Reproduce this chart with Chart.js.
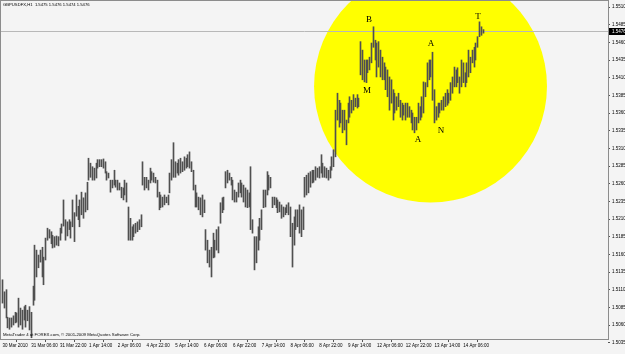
<!DOCTYPE html>
<html lang="en">
<head>
<meta charset="UTF-8">
<title>GBPUSDFX,H1</title>
<script src="https://cdn.jsdelivr.net/npm/chart.js@4.4.2/dist/chart.umd.min.js"></script>
<style>
  html, body { margin: 0; padding: 0; background: #f4f4f4; }
  #wrap { width: 625px; height: 354px; }
</style>
</head>
<body>
<div id="wrap"><canvas id="priceChart" width="625" height="354"></canvas></div>
<script>
// --- H1 bars (high / low per hour) ---
const highs = [
  1.5124,1.5107,1.5110,1.5071,1.5070,1.5070,1.5073,1.5078,1.5077,1.5098,
  1.5084,1.5081,1.5086,1.5088,1.5081,1.5086,1.5078,1.5115,1.5173,1.5166,
  1.5159,1.5166,1.5170,1.5156,1.5183,1.5197,1.5195,1.5192,1.5187,1.5185,
  1.5186,1.5185,1.5197,1.5203,1.5237,1.5209,1.5206,1.5209,1.5206,1.5237,
  1.5219,1.5244,1.5228,1.5237,1.5248,1.5240,1.5247,1.5262,1.5296,1.5289,
  1.5284,1.5282,1.5289,1.5294,1.5294,1.5294,1.5295,1.5291,1.5277,1.5275,
  1.5265,1.5265,1.5279,1.5265,1.5265,1.5261,1.5255,1.5254,1.5265,1.5261,
  1.5227,1.5211,1.5199,1.5202,1.5204,1.5206,1.5209,1.5216,1.5291,1.5269,
  1.5269,1.5265,1.5282,1.5277,1.5275,1.5269,1.5265,1.5248,1.5244,1.5241,
  1.5244,1.5241,1.5244,1.5275,1.5294,1.5318,1.5291,1.5289,1.5294,1.5296,
  1.5291,1.5298,1.5296,1.5301,1.5305,1.5291,1.5279,1.5258,1.5247,1.5241,
  1.5240,1.5244,1.5237,1.5195,1.5180,1.5166,1.5170,1.5190,1.5180,1.5195,
  1.5199,1.5233,1.5240,1.5241,1.5277,1.5279,1.5275,1.5269,1.5265,1.5251,
  1.5248,1.5261,1.5265,1.5261,1.5258,1.5254,1.5251,1.5247,1.5284,1.5209,
  1.5185,1.5185,1.5199,1.5211,1.5223,1.5251,1.5251,1.5277,1.5272,1.5269,
  1.5241,1.5241,1.5240,1.5237,1.5234,1.5230,1.5227,1.5226,1.5230,1.5233,
  1.5227,1.5204,1.5213,1.5223,1.5223,1.5230,1.5223,1.5227,1.5269,1.5272,
  1.5275,1.5277,1.5279,1.5279,1.5284,1.5282,1.5284,1.5301,1.5289,1.5284,
  1.5282,1.5279,1.5284,1.5298,1.5308,1.5364,1.5388,1.5378,1.5374,1.5364,
  1.5364,1.5350,1.5374,1.5383,1.5378,1.5386,1.5381,1.5386,1.5381,1.5461,
  1.5449,1.5435,1.5435,1.5435,1.5439,1.5459,1.5482,1.5463,1.5459,1.5461,
  1.5449,1.5439,1.5431,1.5425,1.5421,1.5411,1.5407,1.5393,1.5388,1.5383,
  1.5388,1.5378,1.5374,1.5371,1.5374,1.5374,1.5369,1.5364,1.5360,1.5354,
  1.5354,1.5374,1.5369,1.5383,1.5404,1.5403,1.5431,1.5435,1.5435,1.5446,
  1.5393,1.5369,1.5374,1.5374,1.5378,1.5383,1.5388,1.5393,1.5388,1.5403,
  1.5411,1.5425,1.5421,1.5424,1.5411,1.5435,1.5431,1.5417,1.5431,1.5449,
  1.5439,1.5449,1.5453,1.5459,1.5468,1.5489,1.5482,1.5478
];
const lows = [
  1.5091,1.5084,1.5070,1.5056,1.5054,1.5057,1.5060,1.5063,1.5064,1.5057,
  1.5060,1.5054,1.5067,1.5057,1.5066,1.5053,1.5042,1.5088,1.5095,1.5128,
  1.5141,1.5149,1.5128,1.5117,1.5152,1.5180,1.5183,1.5175,1.5169,1.5170,
  1.5173,1.5172,1.5180,1.5190,1.5200,1.5180,1.5186,1.5195,1.5183,1.5199,
  1.5178,1.5214,1.5209,1.5199,1.5216,1.5211,1.5220,1.5223,1.5265,1.5269,
  1.5265,1.5265,1.5268,1.5282,1.5284,1.5284,1.5282,1.5275,1.5265,1.5268,
  1.5248,1.5254,1.5258,1.5255,1.5251,1.5251,1.5240,1.5237,1.5244,1.5234,
  1.5180,1.5180,1.5180,1.5185,1.5190,1.5192,1.5195,1.5199,1.5258,1.5251,
  1.5254,1.5251,1.5261,1.5265,1.5262,1.5261,1.5241,1.5223,1.5226,1.5227,
  1.5230,1.5233,1.5230,1.5247,1.5265,1.5269,1.5269,1.5275,1.5272,1.5275,
  1.5277,1.5279,1.5282,1.5284,1.5282,1.5277,1.5251,1.5227,1.5227,1.5223,
  1.5216,1.5213,1.5219,1.5166,1.5148,1.5142,1.5128,1.5155,1.5156,1.5166,
  1.5162,1.5204,1.5219,1.5223,1.5254,1.5261,1.5265,1.5258,1.5237,1.5234,
  1.5234,1.5241,1.5247,1.5241,1.5234,1.5227,1.5226,1.5227,1.5195,1.5190,
  1.5138,1.5148,1.5166,1.5180,1.5195,1.5226,1.5227,1.5244,1.5251,1.5254,
  1.5226,1.5230,1.5226,1.5219,1.5220,1.5211,1.5213,1.5216,1.5219,1.5216,
  1.5185,1.5142,1.5173,1.5195,1.5199,1.5190,1.5185,1.5195,1.5241,1.5244,
  1.5247,1.5255,1.5261,1.5262,1.5265,1.5269,1.5268,1.5275,1.5269,1.5269,
  1.5268,1.5265,1.5268,1.5279,1.5284,1.5298,1.5350,1.5340,1.5346,1.5332,
  1.5336,1.5315,1.5346,1.5354,1.5360,1.5364,1.5369,1.5367,1.5369,1.5414,
  1.5407,1.5404,1.5403,1.5417,1.5421,1.5431,1.5453,1.5435,1.5411,1.5425,
  1.5411,1.5407,1.5407,1.5393,1.5383,1.5364,1.5374,1.5350,1.5360,1.5364,
  1.5369,1.5354,1.5350,1.5357,1.5350,1.5354,1.5354,1.5346,1.5336,1.5332,
  1.5336,1.5346,1.5350,1.5354,1.5360,1.5383,1.5397,1.5407,1.5411,1.5378,
  1.5346,1.5350,1.5354,1.5360,1.5364,1.5364,1.5369,1.5371,1.5374,1.5378,
  1.5388,1.5397,1.5397,1.5403,1.5388,1.5397,1.5403,1.5397,1.5403,1.5411,
  1.5417,1.5431,1.5425,1.5435,1.5453,1.5468,1.5470,1.5473
];
const lastPrice = 1.5476;

// time axis: bar index of each label and its text
const timeTickBars = [0, 16, 32, 48, 64, 80, 96, 112, 128, 144, 160, 176, 192, 208, 224, 240, 256];
const timeLabels = ['30 Mar 2010', '31 Mar 06:00', '31 Mar 22:00', '1 Apr 14:00', '2 Apr 06:00',
  '4 Apr 22:00', '5 Apr 14:00', '6 Apr 06:00', '6 Apr 22:00', '7 Apr 14:00', '8 Apr 06:00',
  '8 Apr 22:00', '9 Apr 14:00', '12 Apr 06:00', '12 Apr 22:00', '13 Apr 14:00', '14 Apr 06:00'];
const priceTicks = [1.5510, 1.5485, 1.5460, 1.5435, 1.5410, 1.5385, 1.5360, 1.5335, 1.5310, 1.5285,
  1.5260, 1.5235, 1.5210, 1.5185, 1.5160, 1.5135, 1.5110, 1.5085, 1.5060, 1.5035];

// hand-drawn markup (bar index, price)
const patternLetters = ['B', 'M', 'A', 'A', 'N', 'T'];
const patternBars = [203.6, 202.5, 230.8, 238.0, 243.6, 264.2];
const patternPrices = [1.5492, 1.5391, 1.5322, 1.5458, 1.5335, 1.5497];
const circleCenter = [237.8, 1.5398];
const circleRadiusBars = 64.7;

const headerText = 'GBPUSDFX,H1  1.5475 1.5476 1.5474 1.5476';
const footerText = 'MetaTrader 4 at FOREX.com, \u00a9 2001-2009 MetaQuotes Software Corp.';

const smallFont = { family: 'Liberation Sans, Arial, sans-serif', size: 4.5 };

// no extra room for the first/last tick labels: the plot fills the frame like in MT4
function noEdgePadding(s) {
  s.paddingTop = 0;
  s.paddingBottom = 0;
  s.paddingLeft = 0;
  s.paddingRight = 0;
}

// --- drawing extras (background, circle, price line, frame, texts) ---
const mt4Decor = {
  id: 'mt4Decor',
  beforeDraw(chart) {
    const ctx = chart.ctx;
    ctx.save();
    ctx.fillStyle = '#f4f4f4';
    ctx.fillRect(0, 0, chart.width, chart.height);
    ctx.restore();
  },
  beforeDatasetsDraw(chart) {
    const { ctx, chartArea: a, scales: { x, y } } = chart;
    // snap the 1px bars onto whole pixels so they stay crisp
    chart.getDatasetMeta(0).data.forEach(el => { el.x = Math.floor(el.x) + 0.5; });

    ctx.save();
    ctx.beginPath();
    ctx.rect(a.left, a.top, a.right - a.left, a.bottom - a.top);
    ctx.clip();
    const cx = x.getPixelForValue(circleCenter[0]);
    const cy = y.getPixelForValue(circleCenter[1]);
    const r = x.getPixelForValue(circleCenter[0] + circleRadiusBars) - cx;
    ctx.fillStyle = '#ffff00';
    ctx.beginPath();
    ctx.arc(cx, cy, r, 0, Math.PI * 2);
    ctx.fill();
    const py = Math.round(y.getPixelForValue(lastPrice)) + 0.5;
    ctx.strokeStyle = '#b8b8b8';
    ctx.lineWidth = 1;
    ctx.beginPath();
    ctx.moveTo(a.left, py);
    ctx.lineTo(a.right, py);
    ctx.stroke();
    ctx.restore();
  },
  afterDraw(chart) {
    const { ctx, chartArea: a, scales: { x, y } } = chart;
    ctx.save();
    // frame
    ctx.strokeStyle = '#8c8c8c';
    ctx.lineWidth = 1;
    ctx.strokeRect(a.left - 0.5, a.top - 0.5, a.right - a.left + 1, a.bottom - a.top + 1);

    // header + footer
    ctx.fillStyle = '#000';
    ctx.textBaseline = 'middle';
    ctx.textAlign = 'left';
    ctx.font = '4.2px "Liberation Sans", Arial, sans-serif';
    ctx.fillText(headerText, a.left + 2, a.top + 4);
    ctx.font = '4.3px "Liberation Sans", Arial, sans-serif';
    ctx.fillText(footerText, a.left + 2, a.bottom - 4);

    // pattern letters
    ctx.font = '9px "Liberation Serif", "Times New Roman", serif';
    ctx.textAlign = 'center';
    patternLetters.forEach((t, i) => {
      ctx.fillText(t, x.getPixelForValue(patternBars[i]), y.getPixelForValue(patternPrices[i]));
    });

    // last price box on the scale
    const py = Math.round(y.getPixelForValue(lastPrice));
    ctx.fillStyle = '#000';
    ctx.fillRect(a.right + 1, py - 3, chart.width - a.right - 1, 7);
    ctx.fillStyle = '#fff';
    ctx.textAlign = 'left';
    ctx.font = '4.5px "Liberation Sans", Arial, sans-serif';
    ctx.fillText(lastPrice.toFixed(4), a.right + 4, py + 0.5);
    ctx.restore();
  }
};

const ctx = document.getElementById('priceChart').getContext('2d');
new Chart(ctx, {
  type: 'bar',
  data: {
    datasets: [{
      label: 'GBPUSDFX H1',
      data: highs.map((h, i) => ({ x: i, y: [lows[i], h] })),
      backgroundColor: '#505050',
      borderWidth: 0,
      borderSkipped: false,
      barThickness: 1
    }]
  },
  options: {
    responsive: false,
    animation: false,
    devicePixelRatio: 1,
    layout: { padding: { left: 1, top: 1, right: 0, bottom: 0 } },
    plugins: {
      legend: { display: false },
      tooltip: { enabled: false },
      title: { display: false }
    },
    scales: {
      x: {
        type: 'linear',
        min: -0.83,
        max: 336.4,
        offset: false,
        afterBuildTicks: s => { s.ticks = timeTickBars.map(v => ({ value: v })); },
        afterFit: s => { s.height = 15; noEdgePadding(s); },
        ticks: {
          autoSkip: false,
          maxRotation: 0,
          align: 'start',
          padding: 1,
          color: '#000',
          font: smallFont,
          callback: (v, i) => timeLabels[i]
        },
        grid: { drawOnChartArea: false, tickLength: 3, color: '#555' },
        border: { display: false }
      },
      y: {
        position: 'right',
        min: 1.50402,
        max: 1.55185,
        afterBuildTicks: s => { s.ticks = priceTicks.map(v => ({ value: v })); },
        afterFit: s => { s.width = 17; noEdgePadding(s); },
        ticks: {
          autoSkip: false,
          padding: 2,
          color: '#000',
          font: smallFont,
          callback: v => v.toFixed(4)
        },
        grid: { drawOnChartArea: false, tickLength: 2, color: '#555' },
        border: { display: false }
      }
    }
  },
  plugins: [mt4Decor]
});
</script>
</body>
</html>
